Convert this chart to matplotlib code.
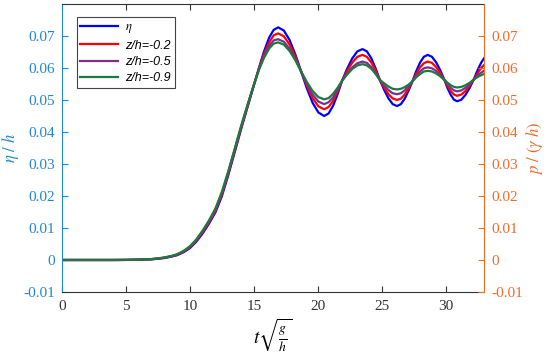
import matplotlib
matplotlib.use("Agg")
import matplotlib.pyplot as plt

# non-dimensional time t*sqrt(g/h)
t = [0, 2, 4, 5, 6, 6.5, 7, 7.5, 8, 8.5, 9, 9.5, 10, 10.5, 11, 11.5, 12, 12.5, 13, 13.5, 14, 14.5,
     15, 15.4, 15.8, 16.2, 16.55, 16.9,
     17.35, 17.8, 18.25, 18.7, 19.15, 19.6, 20.05, 20.5,
     20.85, 21.2, 21.55, 21.9, 22.3, 22.7, 23.1, 23.5,
     23.84, 24.18, 24.51, 24.85, 25.19, 25.53, 25.86, 26.2,
     26.5, 26.8, 27.1, 27.4, 27.7, 28.0, 28.3, 28.6,
     28.93, 29.25, 29.58, 29.9, 30.15, 30.4, 30.65, 30.9,
     31.23, 31.55, 31.88, 32.2, 32.4, 32.6, 32.8, 33.0]

# eta / h
eta = [0, 0, 0, 0.00002, 0.0001, 0.00015, 0.0002, 0.0004, 0.0006, 0.001, 0.0015, 0.0024, 0.0037, 0.0057,
       0.0083, 0.0114, 0.0149, 0.0199, 0.0265, 0.0336, 0.0408, 0.0477,
       0.0545, 0.0600, 0.0652, 0.0695, 0.0719, 0.0727,
       0.0717, 0.0687, 0.0642, 0.0589, 0.0536, 0.0491, 0.0461, 0.0450,
       0.0458, 0.0482, 0.0518, 0.0560, 0.0598, 0.0630, 0.0652, 0.0659,
       0.0652, 0.0631, 0.0600, 0.0563, 0.0532, 0.0505, 0.0487, 0.0481,
       0.0487, 0.0504, 0.0529, 0.0558, 0.0590, 0.0617, 0.0635, 0.0641,
       0.0635, 0.0618, 0.0593, 0.0563, 0.0537, 0.0516, 0.0501, 0.0496,
       0.0501, 0.0516, 0.0538, 0.0564, 0.0584, 0.0602, 0.0618, 0.0630]

# p / (gamma h) at z/h = -0.2
p02 = [0, 0, 0, 0.00002, 0.0001, 0.00016, 0.00025, 0.0004, 0.0007, 0.0011, 0.0016, 0.0026, 0.0039, 0.0060,
       0.0087, 0.0118, 0.0153, 0.0204, 0.0270, 0.0340, 0.0412, 0.0479,
       0.0546, 0.0598, 0.0645, 0.0680, 0.0702, 0.0708,
       0.0699, 0.0673, 0.0635, 0.0589, 0.0544, 0.0506, 0.0480, 0.0471,
       0.0478, 0.0497, 0.0526, 0.0560, 0.0591, 0.0617, 0.0635, 0.0641,
       0.0635, 0.0618, 0.0593, 0.0563, 0.0539, 0.0518, 0.0505, 0.0500,
       0.0504, 0.0517, 0.0536, 0.0558, 0.0582, 0.0602, 0.0615, 0.0620,
       0.0616, 0.0603, 0.0585, 0.0563, 0.0544, 0.0528, 0.0517, 0.0513,
       0.0517, 0.0528, 0.0545, 0.0564, 0.0577, 0.0590, 0.0601, 0.0609]

# z/h = -0.5
p05 = [0, 0, 0, 0.00003, 0.0001, 0.00017, 0.00028, 0.00045, 0.00075, 0.0011, 0.0017, 0.0027, 0.0041, 0.0062,
       0.0090, 0.0121, 0.0157, 0.0208, 0.0274, 0.0344, 0.0415, 0.0482,
       0.0547, 0.0596, 0.0638, 0.0669, 0.0686, 0.0690,
       0.0682, 0.0660, 0.0628, 0.0589, 0.0550, 0.0517, 0.0495, 0.0487,
       0.0493, 0.0508, 0.0532, 0.0560, 0.0583, 0.0602, 0.0615, 0.0620,
       0.0616, 0.0603, 0.0585, 0.0563, 0.0546, 0.0531, 0.0521, 0.0518,
       0.0521, 0.0530, 0.0543, 0.0558, 0.0575, 0.0589, 0.0599, 0.0602,
       0.0599, 0.0591, 0.0578, 0.0563, 0.0549, 0.0538, 0.0530, 0.0527,
       0.0530, 0.0538, 0.0550, 0.0564, 0.0572, 0.0580, 0.0586, 0.0591]

# z/h = -0.9
p09 = [0, 0, 0, 0.00003, 0.0001, 0.00018, 0.0003, 0.0005, 0.0008, 0.0012, 0.0018, 0.0028, 0.0043, 0.0064,
       0.0092, 0.0124, 0.0161, 0.0213, 0.0277, 0.0347, 0.0418, 0.0484,
       0.0547, 0.0594, 0.0632, 0.0661, 0.0676, 0.0680,
       0.0673, 0.0653, 0.0624, 0.0589, 0.0556, 0.0528, 0.0509, 0.0502,
       0.0506, 0.0519, 0.0538, 0.0560, 0.0580, 0.0597, 0.0608, 0.0612,
       0.0608, 0.0598, 0.0582, 0.0563, 0.0552, 0.0542, 0.0535, 0.0533,
       0.0535, 0.0540, 0.0548, 0.0558, 0.0571, 0.0581, 0.0589, 0.0591,
       0.0589, 0.0583, 0.0574, 0.0563, 0.0554, 0.0546, 0.0541, 0.0539,
       0.0541, 0.0546, 0.0554, 0.0564, 0.0569, 0.0574, 0.0578, 0.0581]

labels = [r"$\eta$", "z/h=-0.2", "z/h=-0.5", "z/h=-0.9"]
colors = ["#0000ff", "#ff0000", "#7e2f8e", "#1b7a3c"]

xticks = [0, 5, 10, 15, 20, 25, 30]
yticks = [-0.01, 0, 0.01, 0.02, 0.03, 0.04, 0.05, 0.06, 0.07]
ytick_labels = ["-0.01", "0", "0.01", "0.02", "0.03", "0.04", "0.05", "0.06", "0.07"]

LEFT_C = "#1f88d0"
RIGHT_C = "#f26a2a"
GREY = "#333333"

plt.rcParams["mathtext.fontset"] = "stix"

fig = plt.figure(figsize=(5.5, 3.62), dpi=100)
ax = fig.add_axes([0.1127, 0.1934, 0.7673, 0.7956])

for y, lab, c in zip([eta, p02, p05, p09], labels, colors):
    ax.plot(t, y, color=c, lw=1.6, label=lab)

ax.set_xlim(0, 33)
ax.set_ylim(-0.01, 0.08)
ax.set_xticks(xticks)
ax.set_yticks(yticks)
ax.set_yticklabels(ytick_labels)
ax.tick_params(axis="x", direction="in", top=True, length=4, colors=GREY, labelsize=11, pad=6)
ax.tick_params(axis="y", direction="in", length=4, colors=LEFT_C, labelsize=11, pad=5)
for lab in ax.get_xticklabels() + ax.get_yticklabels():
    lab.set_family("Liberation Serif")
ax.spines["left"].set_color(LEFT_C)
ax.spines["bottom"].set_color(GREY)
ax.spines["top"].set_color(GREY)
ax.spines["right"].set_visible(False)

ax2 = ax.twinx()
ax2.set_ylim(-0.01, 0.08)
ax2.set_yticks(yticks)
ax2.set_yticklabels(ytick_labels)
ax2.tick_params(axis="y", direction="in", length=4, colors=RIGHT_C, labelsize=11, pad=5)
for lab in ax2.get_yticklabels():
    lab.set_family("Liberation Serif")
ax2.spines["right"].set_color(RIGHT_C)
ax2.spines["left"].set_visible(False)
ax2.spines["top"].set_visible(False)
ax2.spines["bottom"].set_visible(False)

ax.set_ylabel(r"$\eta\ /\ h$", color=LEFT_C, fontsize=12, labelpad=2)
ax2.set_ylabel(r"$p\ /\ (\gamma\ h)$", color=RIGHT_C, fontsize=12, rotation=90, labelpad=1)
ax.set_xlabel(r"$t\sqrt{\frac{g}{h}}$", fontsize=14, labelpad=2)

leg = ax.legend(loc="upper left", bbox_to_anchor=(0.02, 0.975), fancybox=False, framealpha=1,
                edgecolor="#444444", handlelength=3.0, handletextpad=0.6, borderpad=0.3,
                labelspacing=0.35, prop={"family": "Liberation Sans", "style": "italic", "size": 9})
leg.get_frame().set_linewidth(0.8)
for line in leg.get_lines():
    line.set_linewidth(1.6)

fig.savefig("out.png", dpi=100)
